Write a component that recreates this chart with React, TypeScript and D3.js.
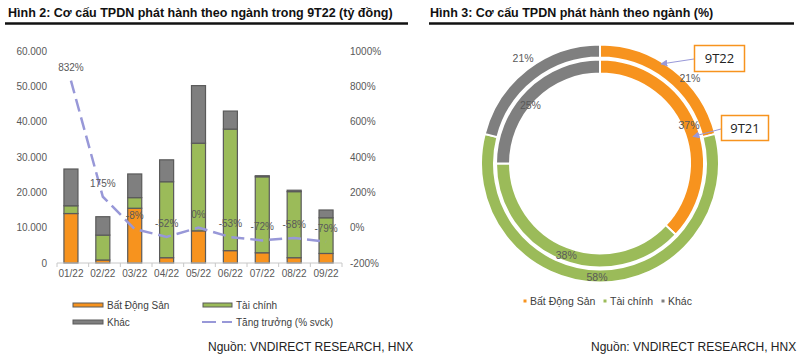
import React from "react";
import * as d3 from "d3";

// Hình 2: issuance by month (tỷ đồng)
const months = ["01/22", "02/22", "03/22", "04/22", "05/22", "06/22", "07/22", "08/22", "09/22"];
const batDongSan = [14000, 850, 15500, 1500, 9100, 3500, 2900, 1500, 2700];
const taiChinh = [2200, 7050, 3000, 21500, 24800, 34400, 21500, 18700, 10100];
const khac = [10400, 5200, 6700, 6200, 16300, 5100, 300, 400, 2200];
const tangTruong = [832, 175, -8, -52, 0, -53, -72, -58, -79];
const leftTicks = [0, 10000, 20000, 30000, 40000, 50000, 60000];
const rightTicks = [-200, 0, 200, 400, 600, 800, 1000];

// Hình 3: share by sector (%)
const sectors = ["Bất Động Sản", "Tài chính", "Khác"];
const share9T22 = [21, 58, 21];
const share9T21 = [37, 38, 25];

const COLORS = ["#F7931E", "#9BBB59", "#7F7F7F"];
const LINE = "#9898d8";
const TXT = "#595959";
const FONT = "'Liberation Sans', Arial, sans-serif";

const fmt = (v: number) => (v === 0 ? "0" : d3.format(",")(v).replace(/,/g, "."));

function BarChart() {
  const x = d3.scaleBand().domain(months).range([55, 342]).paddingInner(0.56).paddingOuter(0.28);
  const y = d3.scaleLinear().domain([0, 60000]).range([263, 51]);
  const y2 = d3.scaleLinear().domain([-200, 1000]).range([263, 51]);
  const stack = d3.stack<number>().keys(["0", "1", "2"]).value((i, k) => [batDongSan, taiChinh, khac][+k][i]);
  const series = stack(months.map((_, i) => i));
  const line = d3
    .line<number>()
    .x((_, i) => x(months[i])! + x.bandwidth() / 2)
    .y((d) => y2(d));

  return (
    <g fontFamily={FONT}>
      {leftTicks.map((t) => (
        <text key={t} x={47} y={y(t) + 3.5} textAnchor="end" fontSize={10} fill={TXT}>
          {fmt(t)}
        </text>
      ))}
      {rightTicks.map((t) => (
        <text key={t} x={350} y={y2(t) + 3.5} fontSize={10} fill={TXT}>
          {t}%
        </text>
      ))}
      {series.map((s, si) =>
        s.map((d, i) => (
          <rect
            key={si + "-" + i}
            x={x(months[i])}
            y={y(d[1])}
            width={x.bandwidth()}
            height={y(d[0]) - y(d[1])}
            fill={COLORS[si]}
            stroke="#5a5a5a"
            strokeWidth={1.2}
          />
        ))
      )}
      <line x1={57} x2={342} y1={263} y2={263} stroke="#c8c8c8" />
      {d3.range(months.length + 1).map((i) => {
        const xx = 57 + (i * (342 - 57)) / months.length;
        return <line key={i} x1={xx} x2={xx} y1={263} y2={267} stroke="#c8c8c8" />;
      })}
      {months.map((m) => (
        <text key={m} x={x(m)! + x.bandwidth() / 2} y={277} textAnchor="middle" fontSize={10} fill={TXT}>
          {m}
        </text>
      ))}
      <path
        d={line(tangTruong)!}
        fill="none"
        stroke={LINE}
        strokeWidth={2.5}
        strokeDasharray="13 6"
      />
      {tangTruong.map((v, i) => (
        <text
          key={i}
          x={x(months[i])! + x.bandwidth() / 2}
          y={y2(v) - 10}
          textAnchor="middle"
          fontSize={10}
          fill={TXT}
        >
          {v}%
        </text>
      ))}
      {/* legend */}
      <g fontSize={10} fill="#404040">
        <rect x={73} y={303} width={30} height={4} fill={COLORS[0]} stroke="#5a5a5a" strokeWidth={1} />
        <text x={107} y={308.5}>{sectors[0]}</text>
        <rect x={203} y={303} width={29} height={4} fill={COLORS[1]} stroke="#5a5a5a" strokeWidth={1} />
        <text x={236} y={308.5}>{sectors[1]}</text>
        <rect x={73} y={320} width={30} height={4} fill={COLORS[2]} stroke="#5a5a5a" strokeWidth={1} />
        <text x={107} y={325.5}>{sectors[2]}</text>
        <line x1={202} x2={232} y1={322} y2={322} stroke={LINE} strokeWidth={2} strokeDasharray="14 6" />
        <text x={236} y={325.5}>Tăng trưởng (% svck)</text>
      </g>
    </g>
  );
}

function Donut() {
  const cx = 600;
  const cy = 163.5;
  const pie = d3.pie<number>().sort(null).value((d) => d);
  const outerArc = d3.arc<d3.PieArcDatum<number>>().innerRadius(106).outerRadius(119);
  const innerArc = d3.arc<d3.PieArcDatum<number>>().innerRadius(90).outerRadius(104);
  const outer = pie(share9T22);
  const inner = pie(share9T21);
  // small manual nudges of label positions as in the original
  const outerNudge = [[21, 3], [-3, 1], [-8, -17]];
  const innerNudge = [[0, 0], [2, 1], [-1, 10]];

  return (
    <g fontFamily={FONT}>
      <g transform={`translate(${cx},${cy})`}>
        {outer.map((d, i) => (
          <path key={"o" + i} d={outerArc(d)!} fill={COLORS[i]} stroke="#fff" strokeWidth={2} />
        ))}
        {inner.map((d, i) => (
          <path key={"i" + i} d={innerArc(d)!} fill={COLORS[i]} stroke="#fff" strokeWidth={2} />
        ))}
        {outer.map((d, i) => {
          const [lx, ly] = outerArc.centroid(d);
          return (
            <text key={"ol" + i} x={lx + outerNudge[i][0]} y={ly + outerNudge[i][1] + 4} textAnchor="middle" fontSize={10.5} fill={TXT}>
              {d.data}%
            </text>
          );
        })}
        {inner.map((d, i) => {
          const [lx, ly] = d3.arc<d3.PieArcDatum<number>>().innerRadius(97).outerRadius(97).centroid(d);
          return (
            <text key={"il" + i} x={lx + innerNudge[i][0]} y={ly + innerNudge[i][1] + 4} textAnchor="middle" fontSize={10.5} fill={TXT}>
              {d.data}%
            </text>
          );
        })}
      </g>
      <defs>
        <marker id="arr" viewBox="0 0 10 10" refX={9} refY={5} markerWidth={7} markerHeight={7} orient="auto">
          <path d="M0,0 L10,5 L0,10 z" fill={LINE} />
        </marker>
      </defs>
      <line x1={694} y1={59} x2={661} y2={64} stroke={LINE} strokeWidth={1} markerEnd="url(#arr)" />
      <rect x={694.5} y={45.5} width={50} height={26} fill="#fff" stroke={COLORS[0]} strokeWidth={1.5} />
      <text x={719.5} y={63} textAnchor="middle" fontSize={13} fill="#222" fontFamily="'Open Sans', sans-serif">9T22</text>
      <line x1={721} y1={129} x2={693} y2={136.5} stroke={LINE} strokeWidth={1} markerEnd="url(#arr)" />
      <rect x={721.5} y={115.5} width={47} height={25} fill="#fff" stroke={COLORS[0]} strokeWidth={1.5} />
      <text x={745} y={132.5} textAnchor="middle" fontSize={13} fill="#222" fontFamily="'Open Sans', sans-serif">9T21</text>
      <g fontSize={10.5} fill="#404040">
        {sectors.map((s, i) => {
          const lx = [525, 605, 663][i];
          return (
            <g key={s}>
              <rect x={lx - 1.5} y={299.5} width={3} height={3} fill={COLORS[i]} />
              <text x={lx + 5} y={304.5}>{s}</text>
            </g>
          );
        })}
      </g>
    </g>
  );
}

export default function App() {
  return (
    <svg width={800} height={358} style={{ position: "absolute", left: 0, top: 0, background: "#fff" }}>
      <g fontFamily={FONT}>
        <text x={8} y={16.5} fontSize={12.5} fontWeight="bold" fill="#111">
          Hình 2: Cơ cấu TPDN phát hành theo ngành trong 9T22 (tỷ đồng)
        </text>
        <text x={430} y={16.5} fontSize={12.5} fontWeight="bold" fill="#111">
          Hình 3: Cơ cấu TPDN phát hành theo ngành (%)
        </text>
        <line x1={5} x2={408} y1={23.5} y2={23.5} stroke="#111" strokeWidth={2.5} />
        <line x1={429} x2={794} y1={23.5} y2={23.5} stroke="#111" strokeWidth={2.5} />
        <text x={208} y={351} fontSize={12} fill="#222">Nguồn: VNDIRECT RESEARCH, HNX</text>
        <text x={591} y={351} fontSize={12} fill="#222">Nguồn: VNDIRECT RESEARCH, HNX</text>
      </g>
      <BarChart />
      <Donut />
    </svg>
  );
}
